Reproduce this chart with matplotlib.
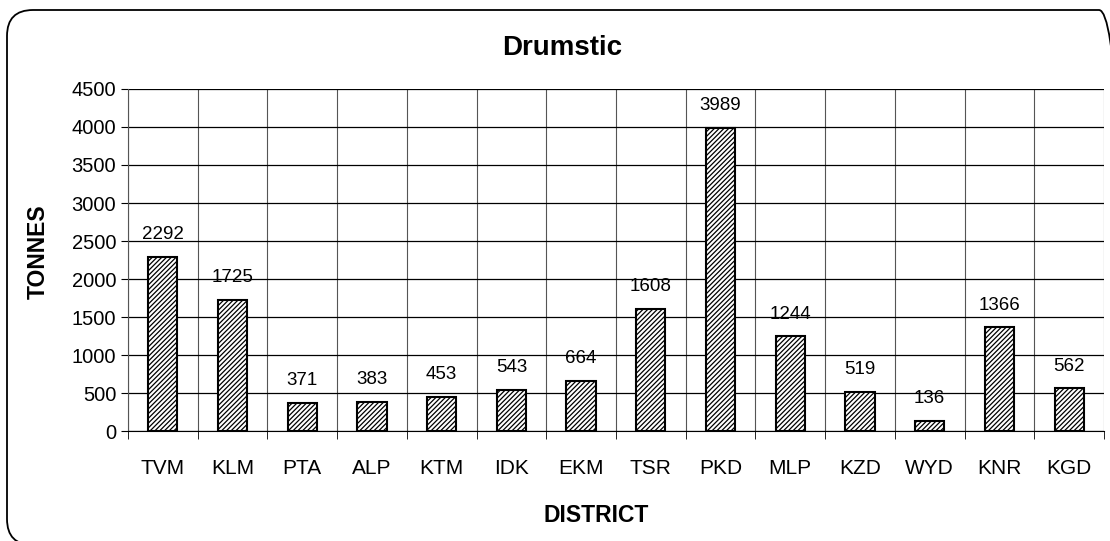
import matplotlib.pyplot as plt
from matplotlib.patches import FancyBboxPatch
from matplotlib.transforms import IdentityTransform
import matplotlib as mpl

mpl.rcParams['font.family'] = 'Liberation Sans'
mpl.rcParams['hatch.linewidth'] = 0.9

districts = ['TVM', 'KLM', 'PTA', 'ALP', 'KTM', 'IDK', 'EKM', 'TSR',
             'PKD', 'MLP', 'KZD', 'WYD', 'KNR', 'KGD']
tonnes = [2292, 1725, 371, 383, 453, 543, 664, 1608,
          3989, 1244, 519, 136, 1366, 562]

fig = plt.figure(figsize=(11.1, 5.41), dpi=100)
# rounded frame, running off the right and bottom edges (pixel coords)
frame = FancyBboxPatch((7, -4), 1118, 535,
                       boxstyle='round,pad=0,rounding_size=26',
                       transform=IdentityTransform(), fill=False,
                       edgecolor='black', linewidth=1.3)
fig.patches.append(frame)

ax = fig.add_axes([0.1153, 0.2033, 0.8793, 0.6322])
x = range(len(districts))
ax.bar(x, tonnes, width=0.42, color='white', edgecolor='black',
       hatch='///////', linewidth=1.5, zorder=3)
for i, v in enumerate(tonnes):
    ax.text(i, v + 180, str(v), ha='center', va='bottom', fontsize=13.5)

ax.set_xlim(-0.5, len(districts) - 0.5)
ax.set_ylim(0, 4500)
ax.set_yticks(range(0, 4501, 500))
ax.set_xticks(x)
ax.set_xticklabels(districts, fontsize=15)
ax.tick_params(axis='x', length=0, pad=20)
ax.set_xticks([i - 0.5 for i in range(len(districts) + 1)], minor=True)
ax.tick_params(axis='x', which='minor', length=6, direction='out')
ax.tick_params(axis='y', labelsize=14.5, length=5)
ax.grid(axis='y', color='black', linewidth=0.9, zorder=0)
ax.grid(axis='x', which='minor', color='#555555', linewidth=0.8, zorder=0)
for s in ['top', 'right']:
    ax.spines[s].set_visible(False)
ax.spines['left'].set_color('#555555')

fig.text(562 / 1110, 1 - 48 / 541, 'Drumstic', fontsize=20,
         fontweight='bold', ha='center', va='center')
fig.text(596 / 1110, 1 - 516 / 541, 'DISTRICT', fontsize=16.5,
         fontweight='bold', ha='center', va='center')
fig.text(38 / 1110, 1 - 252 / 541, 'TONNES', fontsize=16.5,
         fontweight='bold', ha='center', va='center', rotation=90)

fig.savefig('out.png', dpi=100)
